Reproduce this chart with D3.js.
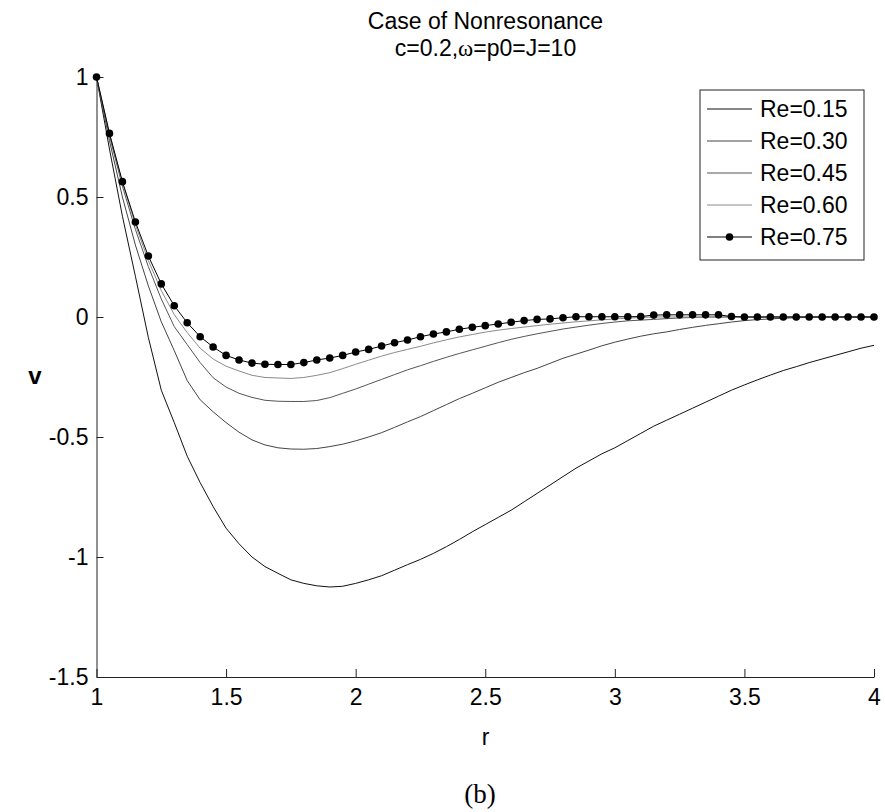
<!DOCTYPE html>
<html>
<head>
<meta charset="utf-8">
<script src="https://cdn.jsdelivr.net/npm/d3@7"></script>
<style>
  body { margin: 0; background: #fff; }
  text { font-family: "Liberation Sans", Arial, sans-serif; fill: #000; }
</style>
</head>
<body>
<div id="chart-area"></div>
<script>
// r grid (0.05 steps)
const rValues = [1.00, 1.05, 1.10, 1.15, 1.20, 1.25, 1.30, 1.35, 1.40, 1.45,
  1.50, 1.55, 1.60, 1.65, 1.70, 1.75, 1.80, 1.85, 1.90, 1.95,
  2.00, 2.05, 2.10, 2.15, 2.20, 2.25, 2.30, 2.35, 2.40, 2.45,
  2.50, 2.55, 2.60, 2.65, 2.70, 2.75, 2.80, 2.85, 2.90, 2.95,
  3.00, 3.05, 3.10, 3.15, 3.20, 3.25, 3.30, 3.35, 3.40, 3.45,
  3.50, 3.55, 3.60, 3.65, 3.70, 3.75, 3.80, 3.85, 3.90, 3.95, 4.00]

const re015 = [1.0, 0.70, 0.42, 0.17, -0.085, -0.305, -0.44, -0.58, -0.69, -0.79,
  -0.88, -0.945, -1.0, -1.04, -1.068, -1.095, -1.11, -1.12, -1.125, -1.122,
  -1.11, -1.095, -1.078, -1.055, -1.032, -1.01, -0.985, -0.957, -0.927, -0.895,
  -0.865, -0.835, -0.805, -0.77, -0.735, -0.70, -0.665, -0.63, -0.60, -0.57,
  -0.545, -0.515, -0.485, -0.455, -0.43, -0.405, -0.38, -0.355, -0.33, -0.305,
  -0.283, -0.262, -0.242, -0.223, -0.207, -0.19, -0.175, -0.16, -0.145, -0.13, -0.118]

const re030 = [1.0, 0.735, 0.50, 0.30, 0.13, -0.02, -0.14, -0.265, -0.345, -0.395,
  -0.44, -0.48, -0.512, -0.533, -0.545, -0.55, -0.551, -0.548, -0.54, -0.53,
  -0.516, -0.5, -0.482, -0.46, -0.437, -0.415, -0.39, -0.365, -0.34, -0.318,
  -0.295, -0.272, -0.252, -0.232, -0.214, -0.193, -0.172, -0.155, -0.138, -0.12,
  -0.105, -0.092, -0.08, -0.07, -0.062, -0.052, -0.043, -0.035, -0.028, -0.021,
  -0.015, -0.011, -0.008, -0.005, -0.003, -0.001, 0, 0, 0, 0, 0]

const re045 = [1.0, 0.755, 0.545, 0.365, 0.21, 0.075, -0.04, -0.115, -0.19, -0.253,
  -0.292, -0.318, -0.335, -0.347, -0.351, -0.352, -0.352, -0.348, -0.336, -0.318,
  -0.3, -0.28, -0.26, -0.24, -0.22, -0.203, -0.185, -0.168, -0.152, -0.137,
  -0.122, -0.107, -0.093, -0.081, -0.07, -0.06, -0.05, -0.042, -0.034, -0.027,
  -0.021, -0.016, -0.013, -0.01, -0.007, -0.004, -0.002, 0, 0, 0,
  0, 0, 0, 0, 0, 0, 0, 0, 0, 0, 0]

const re060 = [1.0, 0.765, 0.56, 0.385, 0.235, 0.11, 0.01, -0.065, -0.13, -0.175,
  -0.205, -0.225, -0.243, -0.252, -0.254, -0.256, -0.252, -0.243, -0.232, -0.215,
  -0.197, -0.18, -0.163, -0.148, -0.135, -0.122, -0.108, -0.095, -0.083, -0.073,
  -0.063, -0.055, -0.048, -0.042, -0.036, -0.03, -0.025, -0.02, -0.016, -0.012,
  -0.008, -0.005, -0.002, 0, 0, 0, 0, 0, 0, 0,
  0, 0, 0, 0, 0, 0, 0, 0, 0, 0, 0]

const re075 = [1.0, 0.765, 0.564, 0.396, 0.254, 0.138, 0.047, -0.024, -0.082, -0.125,
  -0.16, -0.179, -0.192, -0.197, -0.198, -0.198, -0.19, -0.179, -0.171, -0.16,
  -0.146, -0.135, -0.121, -0.107, -0.096, -0.082, -0.071, -0.062, -0.051, -0.043,
  -0.036, -0.029, -0.022, -0.015, -0.01, -0.008, -0.003, 0.001, 0.001, 0.001,
  0.001, 0.001, 0.002, 0.008, 0.009, 0.009, 0.009, 0.009, 0.009, 0.002,
  0, 0, 0, 0, 0, 0, 0, 0, 0, 0, 0]

const seriesNames = ["Re=0.15", "Re=0.30", "Re=0.45", "Re=0.60", "Re=0.75"]
const seriesValues = [re015, re030, re045, re060, re075]
const seriesColors = ["#111", "#444", "#555", "#8a8a8a", "#000"]

const xTicks = [1, 1.5, 2, 2.5, 3, 3.5, 4]
const xTickLabels = ["1", "1.5", "2", "2.5", "3", "3.5", "4"]
const yTicks = [-1.5, -1, -0.5, 0, 0.5, 1]
const yTickLabels = ["-1.5", "-1", "-0.5", "0", "0.5", "1"]

const W = 885, H = 812
const svg = d3.select("#chart-area").append("svg")
	.attr("width", W)
	.attr("height", H)

const x = d3.scaleLinear().domain([1, 4]).range([96.5, 874])
const y = d3.scaleLinear().domain([-1.5, 1]).range([677, 77])

// axes, MATLAB style: ticks pointing inward, no box
const xAxis = svg.append("g")
	.attr("transform", `translate(0,${y(-1.5)})`)
	.call(d3.axisBottom(x).tickValues(xTicks)
		.tickFormat((d, i) => xTickLabels[i])
		.tickSizeInner(-8).tickSizeOuter(0).tickPadding(12))
const yAxis = svg.append("g")
	.attr("transform", `translate(${x(1)},0)`)
	.call(d3.axisLeft(y).tickValues(yTicks)
		.tickFormat((d, i) => yTickLabels[i])
		.tickSizeInner(-7).tickSizeOuter(0).tickPadding(8))

svg.selectAll(".domain, .tick line").attr("stroke", "#222")
svg.selectAll(".tick text")
	.attr("font-family", "Liberation Sans, Arial, sans-serif")
	.attr("font-size", 23)
	.attr("fill", "#000")

// curves
const line = d3.line()
	.x((d, i) => x(rValues[i]))
	.y(d => y(d))

seriesValues.forEach((vals, k) => {
	svg.append("path")
		.datum(vals)
		.attr("fill", "none")
		.attr("stroke", seriesColors[k])
		.attr("stroke-width", 1)
		.attr("d", line)
})

svg.selectAll("circle.dot")
	.data(re075)
	.enter().append("circle")
	.attr("class", "dot")
	.attr("cx", (d, i) => x(rValues[i]))
	.attr("cy", d => y(d))
	.attr("r", 3.8)
	.attr("fill", "#000")

// titles and labels
svg.append("text")
	.attr("x", 485.5).attr("y", 29)
	.attr("text-anchor", "middle")
	.attr("font-size", 23)
	.text("Case of Nonresonance")
const sub = svg.append("text")
	.attr("x", 485.5).attr("y", 56)
	.attr("text-anchor", "middle")
	.attr("font-size", 23)
sub.append("tspan").text("c=0.2,")
sub.append("tspan").attr("font-family", "Liberation Serif, serif").text("ω")
sub.append("tspan").text("=p0=J=10")

svg.append("text")
	.attr("x", 485.5).attr("y", 745)
	.attr("text-anchor", "middle")
	.attr("font-size", 23)
	.text("r")

svg.append("text")
	.attr("x", 35).attr("y", 384)
	.attr("text-anchor", "middle")
	.attr("font-size", 24)
	.attr("font-weight", "bold")
	.text("v")

svg.append("text")
	.attr("x", 480).attr("y", 803)
	.attr("text-anchor", "middle")
	.attr("font-size", 27)
	.style("font-family", "Liberation Serif, Times New Roman, serif")
	.text("(b)")

// legend
const legend = svg.append("g")
legend.append("rect")
	.attr("x", 700).attr("y", 90)
	.attr("width", 164).attr("height", 170)
	.attr("fill", "#fff")
	.attr("stroke", "#222")

const entry = legend.selectAll("g.entry")
	.data(seriesNames)
	.enter().append("g")
	.attr("class", "entry")
	.attr("transform", (d, i) => `translate(0,${109 + i * 32})`)

entry.append("line")
	.attr("x1", 707).attr("x2", 752)
	.attr("stroke", (d, i) => seriesColors[i])
	.attr("stroke-width", 1)

entry.append("text")
	.attr("x", 760).attr("dy", "0.35em")
	.attr("font-size", 23)
	.text(d => d)

entry.filter((d, i) => i === 4).append("circle")
	.attr("cx", 729.5).attr("r", 3.8)
	.attr("fill", "#000")
</script>
</body>
</html>
